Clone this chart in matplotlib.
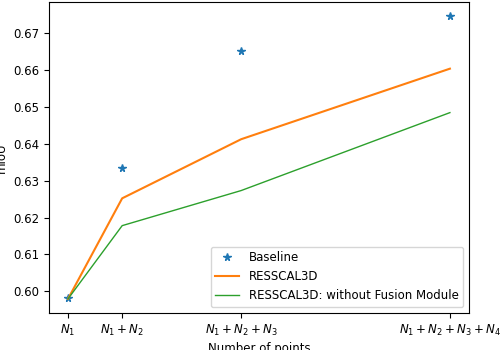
import numpy as np
import matplotlib
matplotlib.use("Agg")
import matplotlib.pyplot as plt

# x positions (relative number of points) and tick labels
x = [1, 2, 4.2, 8.06]
labels = [r'$N_1$', r'$N_1+N_2$', r'$N_1+N_2+N_3$', r'$N_1+N_2+N_3+N_4$']

baseline = [0.5981, 0.6333, 0.6651, 0.6745]
ressc = [0.598, 0.6252, 0.6412, 0.6603]
ressc_nofusion = [0.598, 0.6178, 0.6273, 0.6484]

plt.rcParams['font.size'] = 8.5

fig = plt.figure(figsize=(5, 3.5), dpi=100)
fig.subplots_adjust(left=.098, bottom=.106, right=.938, top=.994)
ax = fig.add_subplot(111)

ax.plot(x, baseline, '*', color='C0', markersize=5.5, label='Baseline')
ax.plot(x, ressc, '-', color='C1', linewidth=1.5, label='RESSCAL3D')
ax.plot(x, ressc_nofusion, '-', color='C2', linewidth=1.0, label='RESSCAL3D: without Fusion Module')

ax.set_xticks(x)
ax.set_xticklabels(labels)
ax.set_xlabel('Number of points', labelpad=3)
ax.set_ylabel('mIoU')
ax.legend(loc='lower right')

fig.savefig('out.png', dpi=100)
